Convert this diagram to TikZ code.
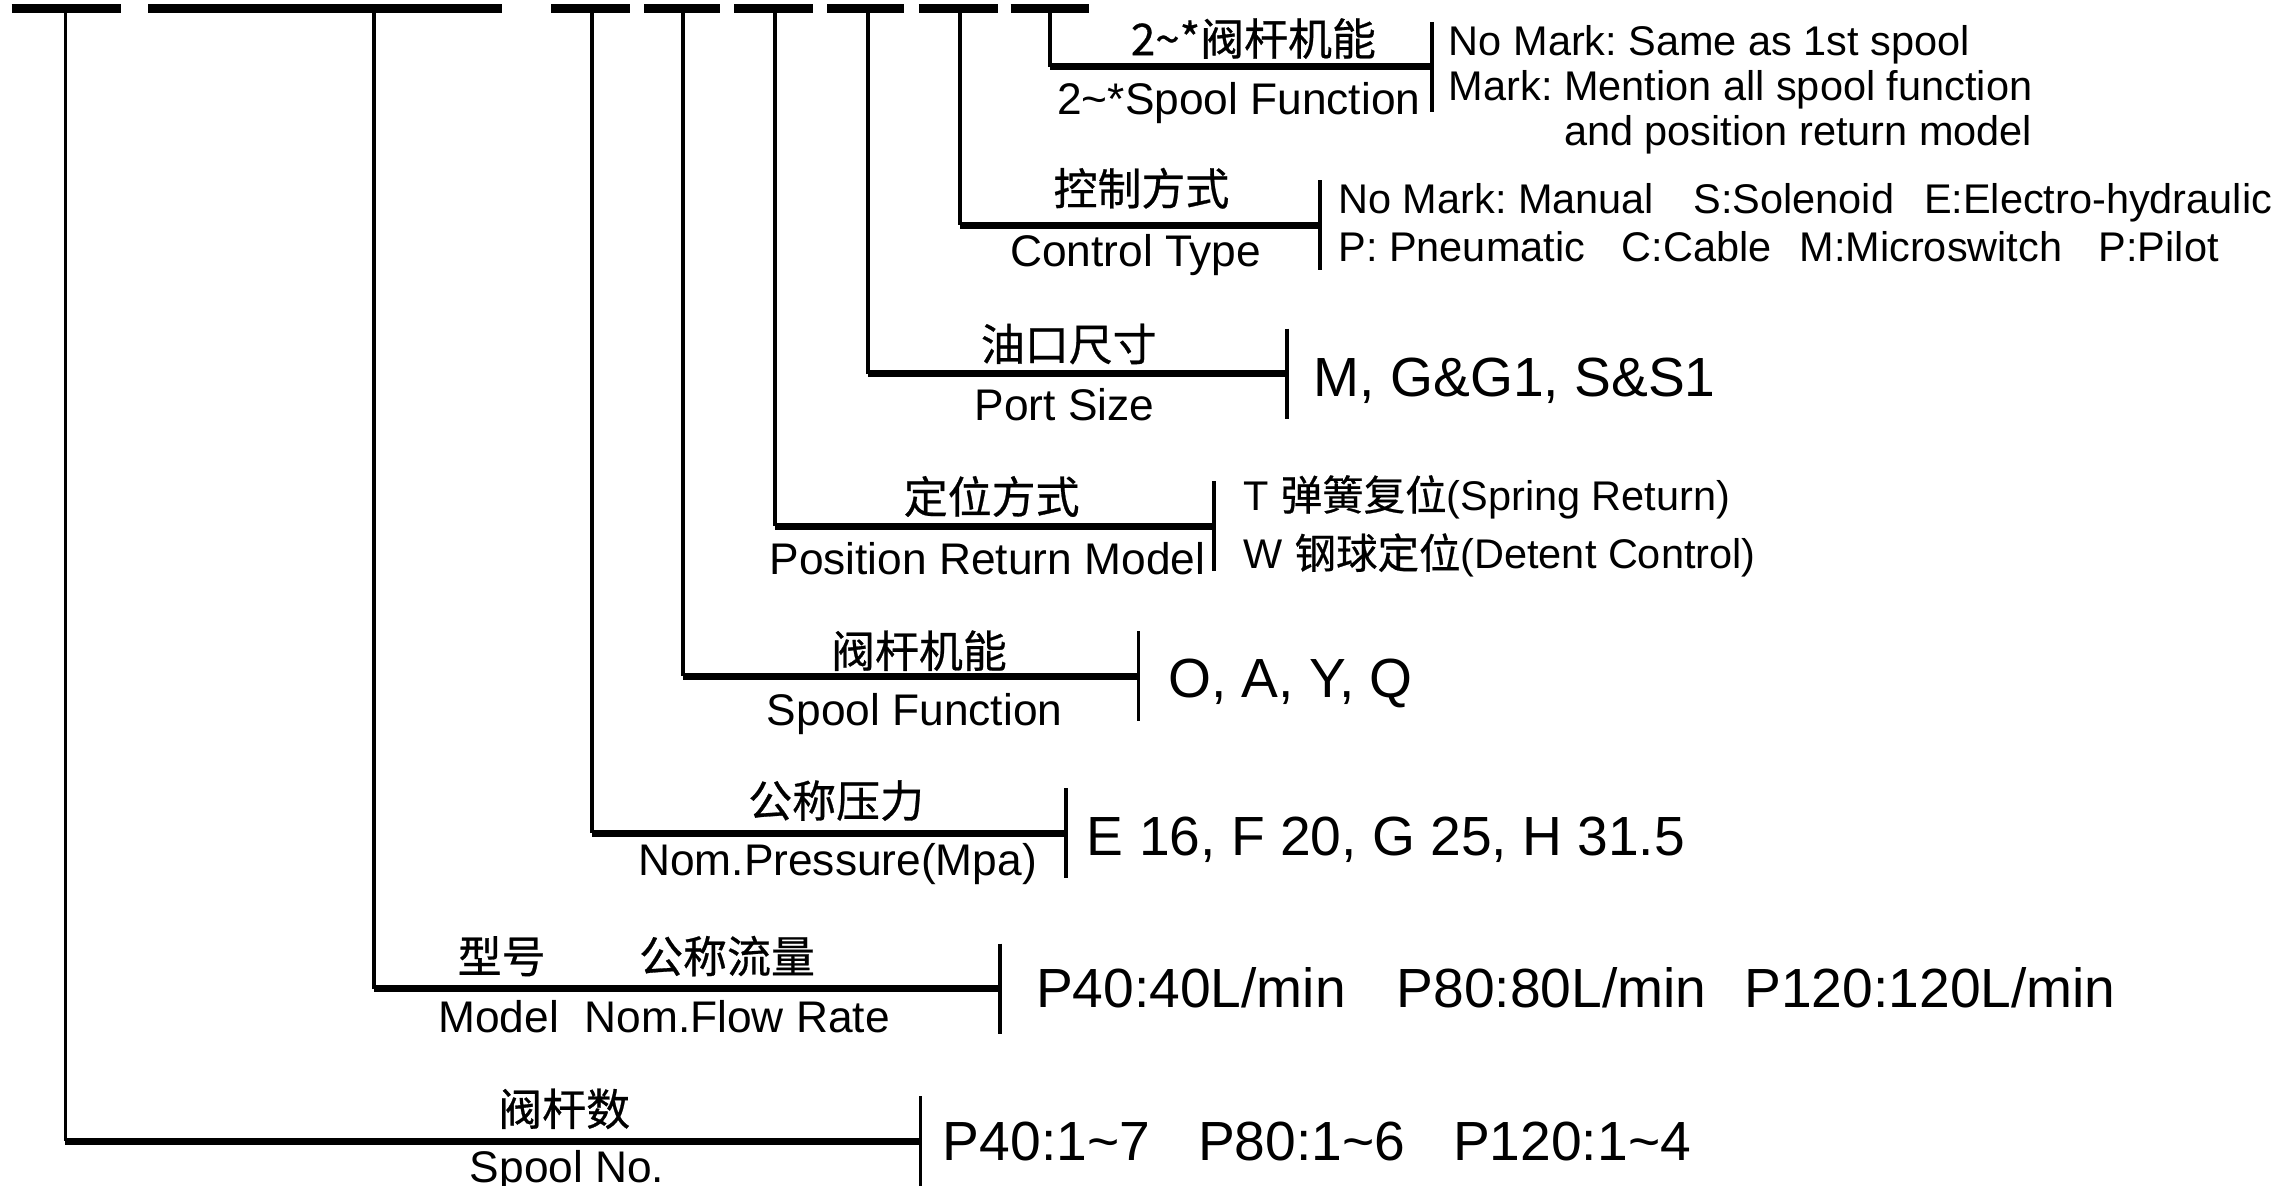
\documentclass[tikz,border=0pt]{standalone}
\usepackage{fontspec}
\setmainfont{Liberation Sans}
\newfontfamily\cjk[FakeBold=0.6]{Noto Sans CJK SC}
\usepackage{tikz}
\usetikzlibrary{positioning}
\frenchspacing
\tikzset{
  codebar/.style ={line width=2.4pt},
  lead/.style    ={line width=1.1pt},
  arm/.style     ={line width=2pt},
  tickbar/.style ={line width=1.1pt},
  cnlab/.style   ={anchor=base, inner sep=0pt, font=\cjk\fontsize{12.5}{14}\selectfont},
  enlab/.style   ={anchor=base, inner sep=0pt, font=\fontsize{12.6}{14}\selectfont},
  opt/.style     ={anchor=base west, inner sep=0pt, font=\fontsize{11.8}{12.8}\selectfont},
  val/.style     ={anchor=base west, inner sep=0pt, font=\fontsize{15.7}{18}\selectfont},
}

\begin{document}
\begin{tikzpicture}[x=0.1454mm, y=-0.1454mm]
  \useasboundingbox (0,0) rectangle (1568,815);

  % code bars on top
  \foreach \a/\b in {8/83,102/345,379/433,443/495,505/559,569/622,632/686,695/749}
    \draw[codebar] (\a,6) -- (\b,6);

  % leads from the bars to the ticks
  \foreach \n/\x/\t/\y in {num/45/633/785, flow/257/688/680, press/407/733/573,
      func/470/783/465, ret/533/835/362, port/597/885/257, ctrl/660/908/155, more/722/985/46}{
    \coordinate (\n-top) at (\x,6);
    \coordinate (\n-end) at (\t,\y);
    \draw[lead] (\n-top) -- (\n-top |- \n-end);
    \draw[arm] (\n-top |- \n-end) -- (\n-end);
    \draw[tickbar] (\n-end) ++(0,-31) -- ++(0,62);
  }

  % 2~* spool function
  \node[cnlab] (more-cn) at (862,38) {2\textasciitilde*阀杆机能};
  \node[enlab] (more-en) at (852,79) {2\textasciitilde*Spool Function};
  \node[opt] (more-opt) at (996,38) {\begin{tabular}[t]{@{}l@{}}No Mark: Same as 1st spool\\
    Mark: Mention all spool function\\ \hfill and position return model\end{tabular}};

  % control type
  \node[cnlab] (ctrl-cn) at (785,141) {控制方式};
  \node[enlab] (ctrl-en) at (781,183) {Control Type};
  \node[opt] (ctrl-opt1) at (920,147) {No Mark: Manual\hspace{.95em}S:Solenoid\hspace{.72em}E:Electro-hydraulic};
  \node[opt] (ctrl-opt2) at (920,180) {P: Pneumatic\hspace{.88em}C:Cable\hspace{.68em}M:Microswitch\hspace{.88em}P:Pilot};

  % port size
  \node[cnlab] (port-cn) at (735,248) {油口尺寸};
  \node[enlab] (port-en) at (732,289) {Port Size};
  \node[val] (port-val) at (903,273) {M, G\&G1, S\&S1};

  % position return model
  \node[cnlab] (ret-cn) at (682,353) {定位方式};
  \node[enlab] (ret-en) at (679,395) {Position Return Model};
  \node[opt] (ret-opt1) at (855,351) {T {\cjk 弹簧复位}(Spring Return)};
  \node[opt] (ret-opt2) at (855,391) {W {\cjk 钢球定位}(Detent Control)};

  % spool function
  \node[cnlab] (func-cn) at (632,459) {阀杆机能};
  \node[enlab] (func-en) at (629,499) {Spool Function};
  \node[val] (func-val) at (803,480) {O, A, Y, Q};

  % nominal pressure
  \node[cnlab] (press-cn) at (575,562) {公称压力};
  \node[enlab] (press-en) at (576,602) {Nom.Pressure(Mpa)};
  \node[val] (press-val) at (747,588) {E 16, F 20, G 25, H 31.5};

  % model and flow rate
  \node[cnlab] (model-cn) at (345,669) {型号};
  \node[cnlab] (flow-cn) at (500,669) {公称流量};
  \node[enlab] (model-en) at (343,710) {Model};
  \node[enlab] (flow-en) at (507,710) {Nom.Flow Rate};
  \node[val] (flow-val) at (712,693) {P40:40L/min\hspace{.92em}P80:80L/min\hspace{.69em}P120:120L/min};

  % spool number
  \node[cnlab] (num-cn) at (388,774) {阀杆数};
  \node[enlab] (num-en) at (390,813) {Spool No.};
  \node[val] (num-val) at (648,798) {P40:1\textasciitilde7\hspace{.87em}P80:1\textasciitilde6\hspace{.87em}P120:1\textasciitilde4};
\end{tikzpicture}
\end{document}
